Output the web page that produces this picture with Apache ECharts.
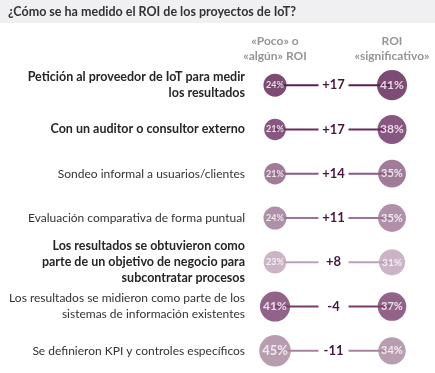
<!DOCTYPE html>
<html>
<head>
<meta charset="utf-8">
<script src="https://cdn.jsdelivr.net/npm/echarts@6/dist/echarts.min.js"></script>
<style>html,body{margin:0;padding:0;background:#fff}#c{width:435px;height:373px}</style>
</head>
<body>
<div id="c"></div>
<script>
const titleText = '¿Cómo se ha medido el ROI de los proyectos de IoT?';
const categories = [
  'Petición al proveedor de IoT para medir\nlos resultados',
  'Con un auditor o consultor externo',
  'Sondeo informal a usuarios/clientes',
  'Evaluación comparativa de forma puntual',
  'Los resultados se obtuvieron como\nparte de un objetivo de negocio para\nsubcontratar procesos',
  'Los resultados se midieron como parte de los\nsistemas de información existentes',
  'Se definieron KPI y controles específicos'
];
const poco = [24, 21, 21, 24, 23, 41, 45];
const significativo = [41, 38, 35, 35, 31, 37, 34];
const boldRows = [true, true, false, false, true, false, false];
const headers = ['«Poco» o\n«algún» ROI', 'ROI\n«significativo»'];
const rowColors = ['#5b1f52', '#6a2c60', '#8a5a80', '#9c7494', '#bfa0b8', '#773c6b', '#a6849e'];

const FONT = 'Lato';
const sizeOf = v => 4.7 * Math.sqrt(v);

function circleData(vals, x) {
  return vals.map((v, i) => {
    const s = sizeOf(v);
    return {
      value: [x, i, v],
      symbolSize: s,
      itemStyle: { color: rowColors[i] },
      label: { fontSize: Math.round(s / 2.5) }
    };
  });
}

const chart = echarts.init(document.getElementById('c'), null, { renderer: 'canvas' });
chart.setOption({
  animation: false,
  textStyle: { fontFamily: FONT },
  graphic: [
    { type: 'rect', left: 0, top: 0, shape: { width: 435, height: 23 }, style: { fill: '#f0eff1' }, z: -1 },
    { type: 'text', left: 8, top: 5, style: { text: titleText, fontFamily: FONT, fontSize: 12.5, fontWeight: 'bold', fill: '#333' } }
  ],
  grid: { left: 275, right: 43, top: 63, height: 310 },
  xAxis: {
    type: 'value', min: 0, max: 2, interval: 1, position: 'top',
    axisLine: { show: false }, axisTick: { show: false }, splitLine: { show: false },
    axisLabel: {
      margin: -1, lineHeight: 15, color: '#959595', fontWeight: 'bold', fontSize: 12, fontFamily: FONT,
      showMinLabel: true, showMaxLabel: true,
      formatter: v => v === 0 ? headers[0] : (v === 2 ? headers[1] : '')
    }
  },
  yAxis: {
    type: 'category', data: categories, inverse: true,
    axisLine: { show: false }, axisTick: { show: false }, splitLine: { show: false },
    axisLabel: {
      margin: 30, align: 'right',
      formatter: (val, idx) => {
        const key = boldRows[idx] ? 'b' : 'n';
        return val.split('\n').map(l => '{' + key + '|' + l + '}').join('\n');
      },
      rich: {
        b: { fontFamily: FONT, fontSize: 12.5, fontWeight: 'bold', color: '#262626', lineHeight: 16, align: 'right' },
        n: { fontFamily: FONT, fontSize: 12, color: '#333333', lineHeight: 16, align: 'right' }
      }
    }
  },
  series: [
    {
      type: 'custom',
      z: 1,
      encode: { x: 0, y: 1 },
      data: poco.map((v, i) => [1, i, v, significativo[i]]),
      renderItem: (params, api) => {
        const i = api.value(1);
        const l = api.coord([0, i]);
        const m = api.coord([1, i]);
        const r = api.coord([2, i]);
        const c = rowColors[i];
        const d = api.value(3) - api.value(2);
        return {
          type: 'group',
          children: [
            { type: 'line', shape: { x1: l[0], y1: l[1], x2: m[0] - 15, y2: m[1] }, style: { stroke: c, lineWidth: 2 } },
            { type: 'line', shape: { x1: m[0] + 15, y1: m[1], x2: r[0], y2: r[1] }, style: { stroke: c, lineWidth: 2 } },
            { type: 'text', x: m[0], y: m[1], style: { text: (d > 0 ? '+' : '') + d, fontFamily: FONT, fontSize: 13, fontWeight: 'bold', fill: '#431840', align: 'center', verticalAlign: 'middle' } }
          ]
        };
      }
    },
    {
      type: 'scatter', z: 3, encode: { x: 0, y: 1 },
      data: circleData(poco, 0),
      label: { show: true, position: 'inside', color: '#fff', fontWeight: 'bold', fontFamily: FONT, formatter: p => p.value[2] + '%' }
    },
    {
      type: 'scatter', z: 3, encode: { x: 0, y: 1 },
      data: circleData(significativo, 2),
      label: { show: true, position: 'inside', color: '#fff', fontWeight: 'bold', fontFamily: FONT, formatter: p => p.value[2] + '%' }
    }
  ]
});
</script>
</body>
</html>
